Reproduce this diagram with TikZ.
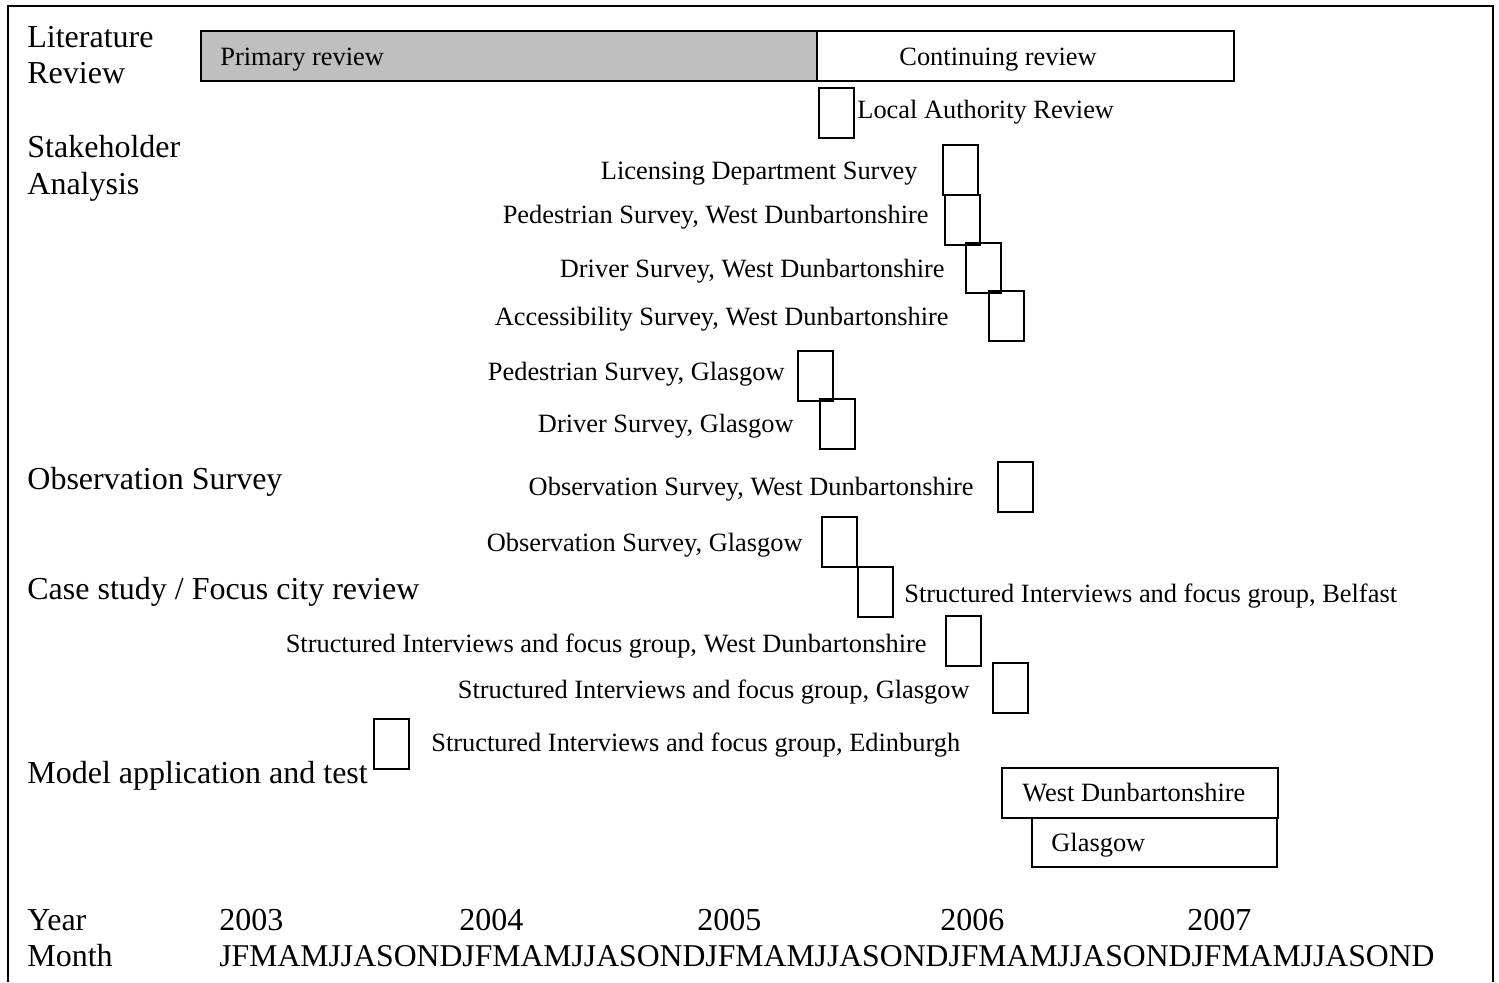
\documentclass[tikz,border=0pt]{standalone}
\usepackage{fontspec}
\setmainfont{Liberation Serif}
\begin{document}
\begin{tikzpicture}[x=0.5pt,y=-0.5pt,
  big/.style={inner sep=0pt, font=\fontsize{16}{19}\selectfont},
  small/.style={inner sep=0pt, font=\fontsize{13.2}{15}\selectfont},
  sbox/.style={draw, line width=0.9pt, minimum width=17.5pt, minimum height=25pt, inner sep=0pt, anchor=north west},
  bar/.style={draw, line width=0.9pt, inner sep=0pt, anchor=north west}]
\useasboundingbox (0,0) rectangle (1499,982);
% outer frame (open at the bottom)
\draw[line width=1pt] (8,982) -- (8,6) -- (1493,6) -- (1493,982);

% row headings
\node[big, anchor=base west] (hLit1) at (27,47) {Literature};
\node[big, anchor=base west] (hLit2) at (27,83) {Review};
\node[big, anchor=base west] (hSta1) at (27,157) {Stakeholder};
\node[big, anchor=base west] (hSta2) at (27,194) {Analysis};
\node[big, anchor=base west] (hObs) at (27,489) {Observation Survey};
\node[big, anchor=base west] (hCase) at (27,599) {Case study / Focus city review};
\node[big, anchor=base west] (hModel) at (27,783) {Model application and test};

% literature review bars
\node[bar, fill=black!25, minimum width=308pt, minimum height=25pt] (primary) at (200,30) {};
\node[small, anchor=base west] (primaryT) at (220,65) {Primary review};
\node[bar, minimum width=208.5pt, minimum height=25pt] (cont) at (816,30) {};
\node[small, anchor=base west] (contT) at (899,65) {Continuing review};

% stakeholder analysis
\node[sbox] (la) at (818,87) {};
\node[small, anchor=base west] (laT) at (857,118) {Local Authority Review};
\node[sbox] (lic) at (942,144) {};
\node[small, anchor=base east] (licT) at (918,179) {Licensing Department Survey};
\node[sbox] (pwd) at (944,194) {};
\node[small, anchor=base east] (pwdT) at (929,223) {Pedestrian Survey, West Dunbartonshire};
\node[sbox] (dwd) at (965,242) {};
\node[small, anchor=base east] (dwdT) at (945,277) {Driver Survey, West Dunbartonshire};
\node[sbox] (awd) at (988,290) {};
\node[small, anchor=base east] (awdT) at (949,325) {Accessibility Survey, West Dunbartonshire};
\node[sbox] (pg) at (797,350) {};
\node[small, anchor=base east] (pgT) at (785,380) {Pedestrian Survey, Glasgow};
\node[sbox] (dg) at (819,398) {};
\node[small, anchor=base east] (dgT) at (794,432) {Driver Survey, Glasgow};

% observation survey
\node[sbox] (owd) at (997,461) {};
\node[small, anchor=base east] (owdT) at (974,495) {Observation Survey, West Dunbartonshire};
\node[sbox] (og) at (821,516) {};
\node[small, anchor=base east] (ogT) at (803,551) {Observation Survey, Glasgow};

% case study / focus city review
\node[sbox] (sb) at (857,566) {};
\node[small, anchor=base west] (sbT) at (904,602) {Structured Interviews and focus group, Belfast};
\node[sbox] (swd) at (945,615) {};
\node[small, anchor=base east] (swdT) at (927,652) {Structured Interviews and focus group, West Dunbartonshire};
\node[sbox] (sg) at (992,662) {};
\node[small, anchor=base east] (sgT) at (970,698) {Structured Interviews and focus group, Glasgow};
\node[sbox] (se) at (373,718) {};
\node[small, anchor=base west] (seT) at (431,751) {Structured Interviews and focus group, Edinburgh};

% model application and test
\node[bar, minimum width=138pt, minimum height=25pt] (mwd) at (1001,767) {};
\node[small, anchor=base west] (mwdT) at (1022,801) {West Dunbartonshire};
\node[bar, minimum width=122.5pt, minimum height=24.5pt] (mg) at (1031,817) {};
\node[small, anchor=base west] (mgT) at (1051,851) {Glasgow};

% time axis
\node[big, anchor=base west] (yearH) at (27,930) {Year};
\node[big, anchor=base west] (monthH) at (27,966) {Month};
\node[big, anchor=base west] (y03) at (219,930) {2003};
\node[big, anchor=base west] (y04) at (459,930) {2004};
\node[big, anchor=base west] (y05) at (697,930) {2005};
\node[big, anchor=base west] (y06) at (940,930) {2006};
\node[big, anchor=base west] (y07) at (1187,930) {2007};
\node[big, anchor=base west, font=\fontsize{15.85}{19}\selectfont] (months) at (219,966) {JFMAMJJASONDJFMAMJJASONDJFMAMJJASONDJFMAMJJASONDJFMAMJJASOND};
\end{tikzpicture}
\end{document}
